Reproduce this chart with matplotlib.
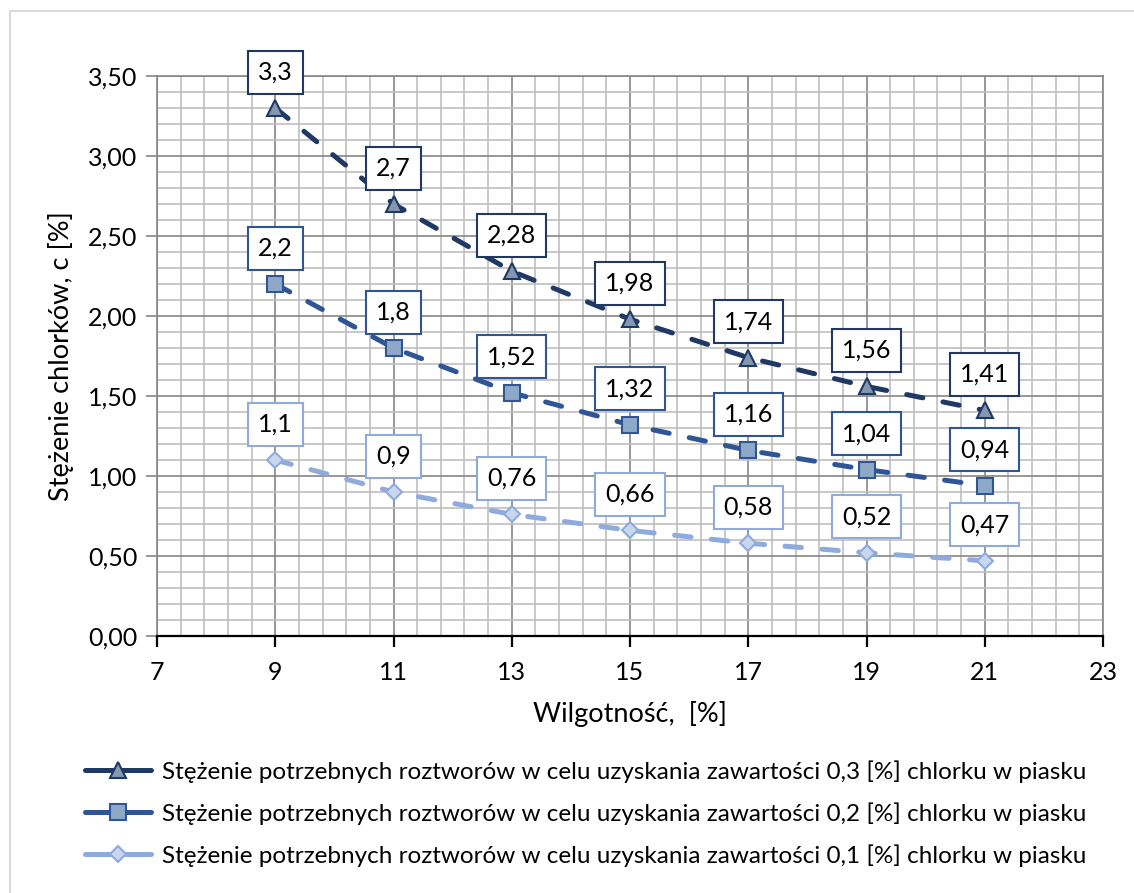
import matplotlib
matplotlib.use("Agg")
import matplotlib.pyplot as plt
from matplotlib.ticker import MultipleLocator, FuncFormatter
from matplotlib.patches import Rectangle
from matplotlib.lines import Line2D

# Wilgotność piasku [%] i wymagane stężenie roztworu chlorku [%]
wilgotnosc = [9, 11, 13, 15, 17, 19, 21]
stez_03 = [3.3, 2.7, 2.28, 1.98, 1.74, 1.56, 1.41]
stez_02 = [2.2, 1.8, 1.52, 1.32, 1.16, 1.04, 0.94]
stez_01 = [1.1, 0.9, 0.76, 0.66, 0.58, 0.52, 0.47]
etykiety = [
    "Stężenie potrzebnych roztworów w celu uzyskania zawartości 0,3 [%] chlorku w piasku",
    "Stężenie potrzebnych roztworów w celu uzyskania zawartości 0,2 [%] chlorku w piasku",
    "Stężenie potrzebnych roztworów w celu uzyskania zawartości 0,1 [%] chlorku w piasku",
]

plt.rcParams["font.family"] = ["Lato", "DejaVu Sans"]
FS = 18

fig = plt.figure(figsize=(11.34, 8.93), dpi=100)
fig.patches.append(Rectangle((10 / 1134, -0.05), 1.2, 0.05 + 1 - 11 / 893,
                             transform=fig.transFigure, fill=False,
                             edgecolor="#d9d9d9", linewidth=1.5))
ax = fig.add_axes([157 / 1134, 1 - 636 / 893, 946 / 1134, 560 / 893])

serie = [
    (stez_03, "^", "#1f3864", "#8497b0", "#1f3864"),
    (stez_02, "s", "#2f5597", "#8ea9c8", "#2f5597"),
    (stez_01, "D", "#8faadc", "#c9d7ee", "#8faadc"),
]

uchwyty = []
for (y, mk, kol, wyp, ram), lab in zip(serie, etykiety):
    ms = 11 if mk != "D" else 8.5
    styl = dict(color=kol, lw=3.6, marker=mk, markersize=ms,
                markerfacecolor=wyp, markeredgecolor=ram, markeredgewidth=1.5)
    # linia przerywana z zaokrąglonymi końcami kresek
    ax.plot(wilgotnosc, y, linestyle=(0, (3.3, 4.1)), dash_capstyle="round",
            zorder=3, **styl)
    uchwyty.append(Line2D([], [], linestyle="-", solid_capstyle="round",
                          label=lab, **styl))
    for xv, yv in zip(wilgotnosc, y):
        ax.annotate(f"{yv:g}".replace(".", ","), (xv, yv),
                    xytext=(0, 36), textcoords="offset pixels",
                    ha="center", va="center", fontsize=FS, zorder=5,
                    bbox=dict(boxstyle="square,pad=0.4", fc="white",
                              ec=ram, lw=1.5))

ax.set_xlim(7, 23)
ax.set_ylim(0, 3.5)
ax.xaxis.set_major_locator(MultipleLocator(2, offset=1))
ax.xaxis.set_minor_locator(MultipleLocator(0.4, offset=0.2))
ax.yaxis.set_major_locator(MultipleLocator(0.5))
ax.yaxis.set_minor_locator(MultipleLocator(0.1))
ax.yaxis.set_major_formatter(FuncFormatter(lambda v, p: f"{v:.2f}".replace(".", ",")))

ax.grid(which="major", color="#868686", lw=1.2, zorder=0)
ax.grid(which="minor", color="#bfbfbf", lw=1.2, zorder=0)
ax.set_axisbelow(True)

for s in ["left", "right", "top"]:
    ax.spines[s].set_color("#868686")
    ax.spines[s].set_linewidth(1.2)
ax.spines["bottom"].set_color("black")
ax.spines["bottom"].set_linewidth(1.6)

ax.tick_params(axis="x", which="major", length=8, width=1.6, color="black",
               labelsize=FS, pad=10)
ax.tick_params(axis="y", which="major", length=8, width=1.2, color="#868686",
               labelsize=FS, pad=6)
ax.tick_params(which="minor", length=0)

ax.set_xlabel("Wilgotność,  [%]", fontsize=FS + 1.5, labelpad=12)
ax.set_ylabel("Stężenie chlorków, c [%]", fontsize=FS + 1.5, labelpad=10)

fig.legend(handles=uchwyty, loc="upper left",
           bbox_to_anchor=(85 / 1134, 1 - 760 / 893),
           frameon=False, fontsize=17.5, handlelength=2.7, handletextpad=0.45,
           labelspacing=0.8, borderpad=0, borderaxespad=0)

fig.savefig("out.png", dpi=100)
